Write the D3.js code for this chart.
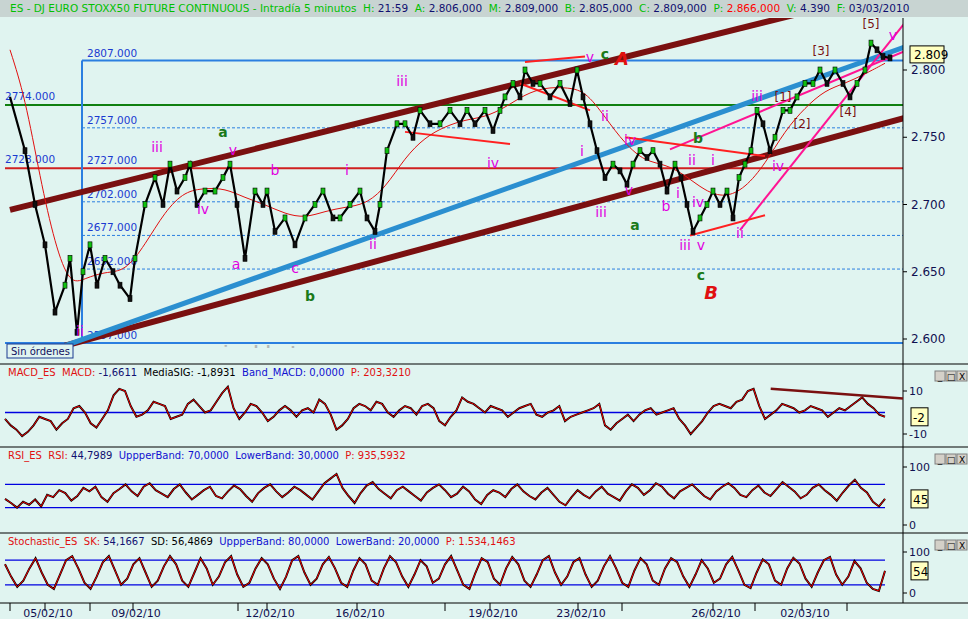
<!DOCTYPE html><html><head><meta charset="utf-8">
<script src="https://cdn.jsdelivr.net/npm/d3@7"></script>
<style>body{margin:0;background:#e0f4f0}svg{font-family:"DejaVu Sans",Arial,sans-serif}</style></head><body>
<svg id="c" width="968" height="619"></svg>
<script>
// ---- data ----
const barTime=[5,20,30,40,50,60,65,72,78,85,92,100,108,115,125,130,140,150,158,165,172,180,185,192,200,210,218,225,232,240,250,258,262,270,280,290,300,310,318,328,335,345,355,362,370,375,382,392,400,408,415,425,435,445,455,462,470,480,488,495,500,508,515,520,528,535,545,555,565,572,578,585,592,600,608,615,622,628,635,642,648,655,662,670,676,682,688,695,702,708,715,722,728,734,740,746,752,758,765,770,778,785,792,800,808,815,822,830,838,845,852,860,866,872,878,885];
const closes=[2780,2740,2700,2670,2620,2640,2660,2605,2650,2670,2640,2660,2650,2640,2630,2660,2700,2720,2700,2730,2710,2720,2730,2700,2710,2710,2720,2730,2700,2660,2710,2700,2710,2680,2690,2670,2690,2700,2710,2690,2690,2700,2710,2690,2680,2700,2740,2760,2760,2750,2770,2760,2760,2770,2760,2770,2760,2770,2755,2770,2780,2790,2780,2800,2790,2790,2780,2790,2775,2800,2780,2760,2740,2720,2730,2725,2715,2730,2740,2735,2740,2730,2710,2730,2720,2700,2680,2690,2700,2710,2700,2710,2690,2720,2730,2740,2770,2760,2740,2750,2770,2770,2780,2790,2790,2800,2790,2800,2790,2780,2790,2800,2820,2815,2810,2809];
const maTime=[5,20,35,50,65,80,100,120,140,160,180,200,220,240,260,280,300,320,340,360,380,400,420,440,460,480,500,520,540,560,580,600,620,640,660,680,700,720,740,760,780,800,820,840,860,880];
const maVals=[2815,2780,2720,2670,2640,2645,2650,2650,2670,2695,2710,2712,2712,2705,2700,2693,2690,2695,2698,2700,2712,2735,2750,2758,2763,2765,2772,2782,2787,2787,2785,2765,2745,2732,2730,2722,2710,2705,2712,2730,2755,2772,2785,2790,2797,2805];
const levelLabels=["2807.000","2757.000","2727.000","2702.000","2677.000","2652.000","2597.000"];
const levelVals=[2807,2757,2727,2702,2677,2652,2597];
const priceTicks=[2600,2650,2700,2750,2800];
const dateLabels=["05/02/10","09/02/10","12/02/10","16/02/10","19/02/10","23/02/10","26/02/10","02/03/10"];
const dateTimes=[40,128,262,352,485,573,708,797];
const minorTimes=[5,85,233,440,617,750,842];
// trend lines [t1,p1,t2,p2,color,width]
const trendLines=[[5,2696,903,2862,"#7a1010",6],[60,2595,903,2765,"#7a1010",6],[60,2595,903,2818,"#2b8fd0",5],[735,2681,903,2838,"#ff1493",2],[665,2741,903,2815,"#ff1493",2],[400,2754,505,2745,"#ff2020",2],[515,2790,585,2770,"#ff2020",2],[520,2806,580,2810,"#ff2020",2],[620,2750,760,2736,"#ff2020",2],[685,2677,760,2692,"#ff2020",2]];
const M="#e000e0",G="#1a7a1a",BR="#7a1010";
const waves=[["iii",397,2788,M],["iii",152,2739,M],["v",228,2737,M],["b",270,2722,M],["i",342,2722,M],["iv",198,2693,M],["a",231,2652,M],["c",290,2649,M],["ii",368,2667,M],["ii",75,2602,M],["iv",488,2727,M],["v",585,2806,M],["ii",600,2762,M],["i",577,2736,M],["iv",625,2744,M],["iii",596,2691,M],["v",624,2707,M],["b",661,2695,M],["i",673,2705,M],["ii",687,2729,M],["iv",693,2698,M],["iii",680,2666,M],["v",696,2666,M],["ii",735,2675,M],["i",708,2729,M],["iii",752,2777,M],["iv",773,2725,M],["v",888,2822,M],["a",218,2750,G],["b",305,2628,G],["c",600,2808,G],["a",630,2681,G],["c",696,2644,G],["b",693,2746,G],["[3]",816,2811,BR],["[5]",866,2831,BR],["[2]",797,2757,BR],["[4]",843,2766,BR],["[1]",778,2777,BR]];
const bigLabels=[["A",617,2804],["B",706,2630]];
const macdVals=[-3,-6,-8,-11,-9,-6,-2,-3,-4,-8,-5,-3,2,3,0,-5,-7,-3,1,8,11,10,3,-2,-1,1,5,4,3,-3,-2,-1,4,6,3,0,1,5,9,12,2,-3,0,4,3,0,-4,-2,1,3,1,-2,1,2,0,6,4,-1,-8,-6,-3,2,4,3,1,5,4,0,-2,1,3,2,-1,3,4,2,-4,-6,-2,1,7,5,4,2,0,3,2,1,-2,0,2,3,4,-1,-2,0,1,3,-4,-2,-1,0,1,2,4,-6,-8,-5,-3,-1,-4,-1,1,2,-1,0,1,2,-3,-6,-10,-7,-4,0,3,4,3,2,5,6,10,11,3,-3,-1,1,4,3,2,0,1,3,2,1,-2,0,2,1,3,5,7,4,2,-1,-2];
const rsiVals=[45,38,30,40,35,44,32,52,48,60,55,42,50,64,58,66,48,40,55,62,70,58,50,66,72,60,54,48,62,70,56,44,52,60,66,50,46,58,68,62,50,40,55,64,70,58,48,56,66,60,52,44,58,72,80,88,64,50,38,55,68,74,62,54,46,60,66,58,50,42,56,64,70,60,48,54,66,58,44,36,52,60,56,48,62,70,58,50,44,56,64,52,40,34,48,60,52,46,58,66,54,48,42,58,70,64,52,60,72,66,54,46,58,64,70,60,50,44,58,66,72,64,52,48,60,68,56,50,62,74,66,58,46,52,64,70,60,52,42,56,68,78,64,56,40,32,45];
const stochVals=[70,40,15,30,60,85,50,20,10,45,80,90,60,25,10,40,75,90,55,20,35,70,85,50,15,30,65,90,70,30,15,50,85,60,20,40,75,90,45,15,25,60,85,70,35,10,40,80,90,50,20,35,70,88,60,25,15,55,85,70,30,20,60,90,75,40,15,45,80,65,25,35,70,90,55,20,10,50,85,75,35,20,60,88,70,30,15,45,80,90,50,20,40,75,85,45,15,30,65,90,60,25,15,55,85,70,30,20,60,85,75,40,15,45,80,60,25,35,70,88,55,20,12,50,82,70,30,20,60,86,72,35,15,50,80,88,45,20,40,78,60,25,10,5,54];

// ---- drawing ----
const svg=d3.select("#c");
const X0=5,X1=903;
const x=d3.scaleLinear().domain([0,898]).range([X0,X1]);
const y=d3.scaleLinear().domain([2600,2800]).range([339,70]);
svg.append("rect").attr("width",968).attr("height",619).attr("fill","#e0f4f0");
svg.append("rect").attr("width",968).attr("height",17).attr("fill","#c8d4d2");
const ht=svg.append("text").attr("x",10).attr("y",12).attr("font-size",10.5);
[["ES - DJ EURO STOXX50 FUTURE CONTINUOUS - Intradía 5 minutos  H: ","#00c000"],["21:59  ","#101070"],["A: ","#00c000"],["2.806,000  ","#101070"],["M: ","#00c000"],["2.809,000  ","#101070"],["B: ","#00c000"],["2.805,000  ","#101070"],["C: ","#00c000"],["2.809,000  ","#101070"],["P: ","#00c000"],["2.866,000  ","#ff0000"],["V: ","#00c000"],["4.390  ","#101070"],["F: ","#00c000"],["03/03/2010","#101070"]].forEach(s=>ht.append("tspan").attr("fill",s[1]).attr("xml:space","preserve").text(s[0]));

const main=svg.append("g");
main.append("defs").append("clipPath").attr("id","cp").append("rect").attr("x",X0).attr("y",18).attr("width",X1-X0).attr("height",330);
const g=main.append("g").attr("clip-path","url(#cp)");
levelVals.forEach((v,i)=>{
  const solid=(v===2807||v===2597);
  if(v!==2727) g.append("line").attr("x1",v===2597?X0:x(77)).attr("x2",X1).attr("y1",y(v)).attr("y2",y(v)).attr("stroke","#2b7fe0").attr("stroke-width",solid?2:1).attr("stroke-dasharray",solid?null:"3,2");
  g.append("text").attr("x",x(82)).attr("y",y(v)-4).attr("fill","#1a3ad0").attr("font-size",10.5).text(levelLabels[i]);
});
g.append("line").attr("x1",X0).attr("x2",X1).attr("y1",y(2727)).attr("y2",y(2727)).attr("stroke","#d02020").attr("stroke-width",2);
g.append("line").attr("x1",X0).attr("x2",X1).attr("y1",y(2774)).attr("y2",y(2774)).attr("stroke","#108010").attr("stroke-width",2);
g.append("line").attr("x1",x(77)).attr("x2",x(77)).attr("y1",y(2807)).attr("y2",y(2597)).attr("stroke","#2b7fe0").attr("stroke-width",2);
g.append("text").attr("x",x(0)).attr("y",y(2774)-5).attr("fill","#1a3ad0").attr("font-size",10.5).text("2774.000");
g.append("text").attr("x",x(0)).attr("y",y(2727)-5).attr("fill","#1a3ad0").attr("font-size",10.5).text("2728.000");
trendLines.forEach(l=>g.append("line").attr("x1",x(l[0])).attr("y1",y(l[1])).attr("x2",x(l[2])).attr("y2",y(l[3])).attr("stroke",l[4]).attr("stroke-width",l[5]));
g.append("path").datum(maTime.map((t,i)=>[t,maVals[i]])).attr("fill","none").attr("stroke","#e01010").attr("stroke-width",1)
 .attr("d",d3.line().x(d=>x(d[0])).y(d=>y(d[1])).curve(d3.curveBasis));
g.append("path").datum(barTime.map((t,i)=>[t,closes[i]])).attr("fill","none").attr("stroke","#000").attr("stroke-width",2.2)
 .attr("d",d3.line().x(d=>x(d[0])).y(d=>y(d[1])));
barTime.forEach((t,i)=>{ if(!i)return; const o=closes[i-1],c=closes[i];
  g.append("rect").attr("x",x(t)-2).attr("width",4).attr("y",y(c)-3).attr("height",6).attr("fill",c>=o?"#10c010":"#101010").attr("stroke","#000").attr("stroke-width",0.6);});
waves.forEach(w=>g.append("text").attr("x",x(w[1])).attr("y",y(w[2])).attr("text-anchor","middle").attr("fill",w[3]).attr("font-size",w[3]===BR?12:14).attr("font-weight",w[3]===G?"bold":null).text(w[0]));
bigLabels.forEach(b=>g.append("text").attr("x",x(b[1])).attr("y",y(b[2])).attr("text-anchor","middle").attr("fill","#e01010").attr("font-size",18).attr("font-weight","bold").attr("font-style","italic").text(b[0]));
g.append("text").attr("x",175).attr("y",355).attr("fill","#b0b8b8").attr("font-size",13).attr("font-weight","bold").text("www.visualchart.com");
svg.append("rect").attr("x",7).attr("y",344).attr("width",66).attr("height",14).attr("fill","#e0f4f0").attr("stroke","#1a3a90");
svg.append("text").attr("x",11).attr("y",355).attr("font-size",10).attr("fill","#101060").text("Sin órdenes");
svg.append("line").attr("x1",X1).attr("x2",X1).attr("y1",18).attr("y2",603).attr("stroke","#000");
priceTicks.forEach(p=>{svg.append("line").attr("x1",X1).attr("x2",X1+4).attr("y1",y(p)).attr("y2",y(p)).attr("stroke","#000");
 svg.append("text").attr("x",X1+8).attr("y",y(p)+4).attr("font-size",12).attr("fill","#101050").text(d3.format(".3f")(p/1000));});
svg.append("rect").attr("x",X1+7).attr("y",y(2809)-12).attr("width",34).attr("height",17).attr("fill","#ffffc0").attr("stroke","#000");
svg.append("text").attr("x",X1+11).attr("y",y(2809)+1).attr("font-size",12).text("2.809");
svg.append("line").attr("x1",0).attr("x2",968).attr("y1",364).attr("y2",364).attr("stroke","#000");

function panel(top,bot,dom,rng,ticks,title,vals,lines,curT){
  svg.append("line").attr("x1",0).attr("x2",968).attr("y1",bot).attr("y2",bot).attr("stroke","#000");
  const ys=d3.scaleLinear().domain(dom).range(rng);
  const xs=d3.scaleLinear().domain([0,vals.length-1]).range([X0,885]);
  const t=svg.append("text").attr("x",8).attr("y",top+12).attr("font-size",10);
  title.forEach(s=>t.append("tspan").attr("fill",s[1]).attr("xml:space","preserve").text(s[0]));
  lines.forEach(v=>svg.append("line").attr("x1",X0).attr("x2",885).attr("y1",ys(v)).attr("y2",ys(v)).attr("stroke","#0000e0").attr("stroke-width",1.3));
  const ln=d3.line().x((d,i)=>xs(i)).y(d=>ys(d));
  svg.append("path").datum(vals).attr("fill","none").attr("stroke","#000").attr("stroke-width",2).attr("d",ln);
  svg.append("path").datum(vals).attr("fill","none").attr("stroke","#f00000").attr("stroke-width",1).attr("d",ln);
  ticks.forEach(v=>{svg.append("line").attr("x1",X1).attr("x2",X1+4).attr("y1",ys(v)).attr("y2",ys(v)).attr("stroke","#000");
    svg.append("text").attr("x",X1+6).attr("y",ys(v)+4).attr("font-size",11).attr("fill","#101050").text(v);});
  svg.append("rect").attr("x",X1+8).attr("y",ys(curT[0])-9).attr("width",17).attr("height",18).attr("fill","#ffffc0").attr("stroke","#000");
  svg.append("text").attr("x",X1+10).attr("y",ys(curT[0])+5).attr("font-size",12).text(curT[1]);
  ["_","□","X"].forEach((s,i)=>{svg.append("rect").attr("x",935+i*11).attr("y",top+7).attr("width",10).attr("height",10).attr("fill","#d4d0c8").attr("stroke","#808080");
    svg.append("text").attr("x",940+i*11).attr("y",top+16).attr("text-anchor","middle").attr("font-size",9).text(s);});
  return {ys,xs};
}
const R="#e01010",N="#101070",B="#1010d0";
const mp=panel(364,447,[-10,10],[434,391],[10,-10],[["MACD_ES  MACD: ",R],["-1,6611  ",N],["MediaSIG: -1,8931  ","#000"],["Band_MACD: 0,0000  ",B],["P: 203,3210",R]],macdVals,[0],[-2,"-2"]);
svg.append("line").attr("x1",mp.xs(134)).attr("y1",mp.ys(11)).attr("x2",X1).attr("y2",mp.ys(6.5)).attr("stroke","#7a1010").attr("stroke-width",2.5);
panel(447,533,[0,100],[525,467],[100,0],[["RSI_ES  RSI: ",R],["44,7989  ",N],["UppperBand: 70,0000  ",B],["LowerBand: 30,0000  ",B],["P: 935,5932",R]],rsiVals,[70,30],[45,"45"]);
panel(533,603,[0,100],[593,552],[100,0],[["Stochastic_ES  SK: ",R],["54,1667  ",N],["SD: 56,4869  ","#000"],["UppperBand: 80,0000  ",B],["LowerBand: 20,0000  ",B],["P: 1.534,1463",R]],stochVals,[80,20],[54,"54"]);
dateTimes.forEach((t,i)=>{svg.append("line").attr("x1",x(t)).attr("x2",x(t)).attr("y1",603).attr("y2",611).attr("stroke","#000");
 svg.append("text").attr("x",x(t)+3).attr("y",617).attr("font-size",11).attr("text-anchor","middle").attr("fill","#101050").text(dateLabels[i]);});
minorTimes.forEach(t=>svg.append("line").attr("x1",x(t)).attr("x2",x(t)).attr("y1",603).attr("y2",611).attr("stroke","#000"));
</script></body></html>
